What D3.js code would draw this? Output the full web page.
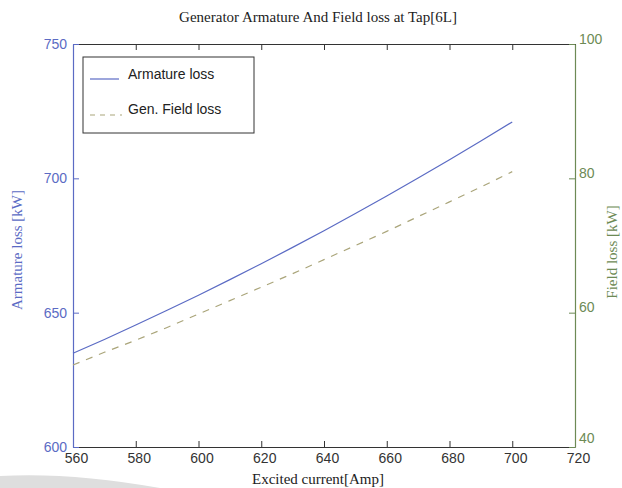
<!DOCTYPE html>
<html><head><meta charset="utf-8">
<script src="https://cdn.jsdelivr.net/npm/d3@7/dist/d3.min.js"></script>
<style>body{margin:0;background:#fff}svg{display:block}</style>
</head><body>
<svg id="c" width="622" height="488"></svg>
<script>
const current = [560,570,580,590,600,610,620,630,640,650,660,670,680,690,700];
const armatureLoss = [634.9,640.0,645.4,650.9,656.5,662.3,668.2,674.3,680.5,686.9,693.4,700.1,706.9,713.9,721.0];
const fieldLoss = [52.2,54.1,55.9,57.8,59.8,61.8,63.8,65.8,67.9,70.0,72.1,74.3,76.5,78.7,81.0];
const xTicks = [560,580,600,620,640,660,680,700,720];
const leftTicks = [600,650,700,750];
const rightTicks = [40,60,80,100];

const svg = d3.select("#c");
const L=73, R=575, T=44, B=447;
const blue="#5b6bc4", green="#6d8a55", dash="#aaa57a";
const x = d3.scaleLinear().domain([560,720]).range([L,R]);
const yL = d3.scaleLinear().domain([600,750]).range([B,T]);
const yR = d3.scaleLinear().domain([40,100]).range([B,T]);

// faint photo swoosh
svg.append("path").attr("d","M0,476 Q70,472 160,488 L0,488 Z").attr("fill","#dedede");

const sans="'Liberation Sans', Arial, sans-serif", serif="'Liberation Serif', 'Times New Roman', serif";

// axes
const gx = svg.append("g").attr("transform",`translate(0,${B})`).call(d3.axisBottom(x).tickValues(xTicks).tickSizeInner(-6).tickSizeOuter(0).tickPadding(6));
gx.select(".domain").attr("stroke","#333");
gx.selectAll("line").attr("stroke","#333");
gx.selectAll("text").attr("font-family",sans).attr("font-size",14).attr("fill","#333").attr("dx",3);
const gt = svg.append("g").attr("transform",`translate(0,${T})`).call(d3.axisTop(x).tickValues(xTicks).tickSizeInner(-6).tickSizeOuter(0).tickFormat(""));
gt.select(".domain").attr("stroke","#333");
gt.selectAll("line").attr("stroke","#333");
const gl = svg.append("g").attr("transform",`translate(${L},0)`).call(d3.axisLeft(yL).tickValues(leftTicks).tickSizeInner(-6).tickSizeOuter(0).tickPadding(6));
gl.select(".domain").attr("stroke",blue);
gl.selectAll("line").attr("stroke",blue);
gl.selectAll("text").attr("font-family",sans).attr("font-size",14).attr("fill",blue);
const gr = svg.append("g").attr("transform",`translate(${R},0)`).call(d3.axisRight(yR).tickValues(rightTicks).tickSizeInner(-6).tickSizeOuter(0).tickPadding(4));
gr.select(".domain").attr("stroke",green);
gr.selectAll("line").attr("stroke",green);
gr.selectAll("text").attr("font-family",sans).attr("font-size",14).attr("fill",green).attr("dy","-0.05em");
gr.selectAll(".tick").filter(d=>d===40).select("text").attr("dy","-0.3em");
svg.selectAll(".domain").attr("stroke-width",1.2);

// lines
svg.append("path").datum(current.map((c,i)=>[c,armatureLoss[i]]))
  .attr("d",d3.line().x(d=>x(d[0])).y(d=>yL(d[1]))).attr("fill","none").attr("stroke",blue).attr("stroke-width",1.2);
svg.append("path").datum(current.map((c,i)=>[c,fieldLoss[i]]))
  .attr("d",d3.line().x(d=>x(d[0])).y(d=>yR(d[1]))).attr("fill","none").attr("stroke",dash).attr("stroke-width",1.2).attr("stroke-dasharray","7,7");

// legend
svg.append("rect").attr("x",83).attr("y",57).attr("width",171).attr("height",76).attr("fill","#fff").attr("stroke","#333").attr("stroke-width",1);
svg.append("line").attr("x1",90).attr("x2",119).attr("y1",79).attr("y2",79).attr("stroke",blue).attr("stroke-width",1.2);
svg.append("line").attr("x1",90).attr("x2",122).attr("y1",115).attr("y2",115).attr("stroke",dash).attr("stroke-width",1.2).attr("stroke-dasharray","5,5");
svg.append("text").attr("x",128).attr("y",79).text("Armature loss").attr("font-family",sans).attr("font-size",14).attr("fill","#222");
svg.append("text").attr("x",128).attr("y",114).text("Gen. Field loss").attr("font-family",sans).attr("font-size",14).attr("fill","#222");

// titles
svg.append("text").attr("x",318).attr("y",22).attr("text-anchor","middle").text("Generator Armature And Field loss at Tap[6L]").attr("font-family",serif).attr("font-size",15).attr("fill","#222");
svg.append("text").attr("x",318).attr("y",484).attr("text-anchor","middle").text("Excited current[Amp]").attr("font-family",serif).attr("font-size",15).attr("fill","#222");
svg.append("text").attr("transform","translate(22,250) rotate(-90)").attr("text-anchor","middle").text("Armature loss [kW]").attr("font-family",serif).attr("font-size",15).attr("fill",blue);
svg.append("text").attr("transform","translate(617,252) rotate(-90)").attr("text-anchor","middle").text("Field loss [kW]").attr("font-family",serif).attr("font-size",15).attr("fill",green);
</script>
</body></html>
